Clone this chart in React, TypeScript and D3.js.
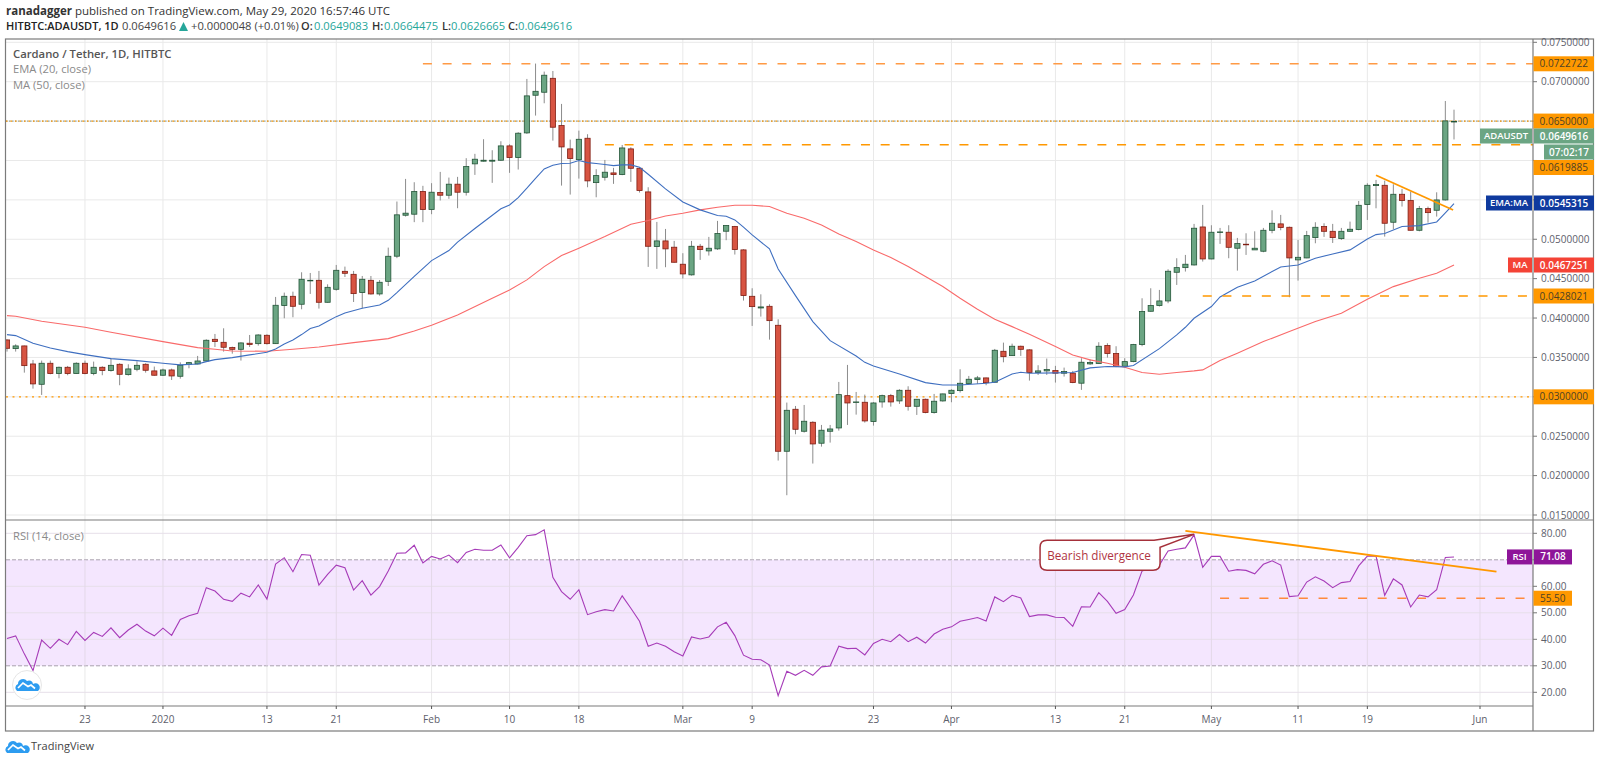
import { useEffect, useRef } from 'react'
import * as d3 from 'd3'

// all candle / average values are in units of 0.00001 USDT
const opens = [
  3722, 3612, 3646, 3417, 3159, 3426, 3295, 3375, 3295, 3426,
  3295, 3375, 3333, 3413, 3282, 3350, 3413, 3329, 3274, 3341,
  3261, 3413, 3417, 3455, 3730, 3692, 3625, 3603, 3680, 3675,
  3781, 3675, 4158, 4276, 4175, 4475, 4479, 4200, 4365, 4593,
  4555, 4323, 4479, 4306, 4466, 4785, 5305, 5318, 5606, 5377,
  5593, 5559, 5699, 5597, 5957, 5991, 5991, 6003, 6185, 6037,
  6350, 6828, 6866, 7043, 6443, 6147, 6011, 6282, 5719, 5787,
  5842, 5821, 6147, 5901, 5601, 4907, 4979, 4899, 4683, 4548,
  4911, 4852, 4878, 5102, 5161, 4865, 4276, 4128, 4149, 3908,
  2309, 2842, 2563, 2677, 2411, 2563, 2605, 3015, 2927, 2931,
  2686, 2935, 3015, 2948, 3083, 2880, 2969, 2800, 2948, 3041,
  3079, 3168, 3219, 3240, 3185, 3578, 3523, 3642, 3596, 3308,
  3329, 3333, 3300, 3300, 3173, 3418, 3422, 3651, 3549, 3388,
  3447, 3663, 4086, 4158, 4217, 4581, 4640, 4674, 5156, 4750,
  5085, 5089, 4886, 4937, 4865, 4848, 5114, 5195, 5152, 4738,
  4763, 5021, 5161, 5101, 5008, 5101, 5123, 5440, 5681, 5685,
  5216, 5571, 5491, 5114, 5389, 5368, 5499, 6491,
]
const closes = [
  3616, 3646, 3396, 3164, 3426, 3295, 3375, 3295, 3426, 3295,
  3375, 3333, 3400, 3286, 3354, 3400, 3337, 3274, 3341, 3265,
  3400, 3434, 3455, 3718, 3701, 3629, 3603, 3684, 3663, 3785,
  3675, 4162, 4276, 4149, 4492, 4479, 4200, 4390, 4606, 4568,
  4310, 4492, 4306, 4454, 4784, 5310, 5331, 5606, 5377, 5597,
  5559, 5699, 5597, 5923, 6016, 6003, 6003, 6185, 6037, 6346,
  6820, 6878, 7082, 6422, 6172, 6024, 6269, 5741, 5808, 5851,
  5821, 6159, 5901, 5618, 4911, 4979, 4878, 4708, 4560, 4911,
  4869, 4886, 5072, 5174, 4869, 4285, 4145, 4141, 3967, 2309,
  2829, 2588, 2690, 2402, 2576, 2592, 3028, 2922, 2935, 2694,
  2922, 3015, 2935, 3083, 2880, 2969, 2800, 2944, 3037, 3083,
  3172, 3223, 3240, 3180, 3591, 3510, 3642, 3603, 3308, 3329,
  3346, 3300, 3321, 3181, 3439, 3435, 3642, 3549, 3388, 3447,
  3663, 4082, 4158, 4217, 4594, 4640, 4683, 5140, 4750, 5089,
  5093, 4898, 4945, 4932, 4886, 5114, 5203, 5148, 4763, 4771,
  5046, 5152, 5101, 5021, 5101, 5127, 5431, 5685, 5694, 5203,
  5571, 5491, 5114, 5389, 5338, 5499, 6502, 6496,
]
const highs = [
  3730, 3667, 3650, 3468, 3460, 3460, 3384, 3392, 3438, 3460,
  3447, 3388, 3489, 3426, 3413, 3451, 3426, 3384, 3358, 3358,
  3438, 3443, 3519, 3730, 3798, 3870, 3637, 3692, 3785, 3794,
  3794, 4268, 4323, 4335, 4581, 4572, 4598, 4428, 4674, 4653,
  4598, 4534, 4534, 4483, 4894, 5479, 5766, 5724, 5678, 5712,
  5855, 5783, 5792, 6029, 6084, 6270, 6130, 6244, 6206, 6359,
  7035, 7230, 7128, 7136, 6718, 6265, 6379, 6333, 5889, 6007,
  5906, 6197, 6168, 5914, 5660, 5220, 5131, 4979, 4823, 4979,
  4941, 5030, 5233, 5178, 5170, 4873, 4378, 4301, 4175, 3984,
  2927, 2884, 2897, 2690, 2643, 2643, 3189, 3405, 3062, 3028,
  2931, 3028, 3037, 3096, 3134, 2973, 2977, 3037, 3041, 3096,
  3350, 3265, 3265, 3244, 3608, 3688, 3675, 3650, 3604, 3401,
  3486, 3393, 3371, 3329, 3490, 3477, 3693, 3680, 3642, 3490,
  3672, 4251, 4378, 4357, 4619, 4759, 4801, 5195, 5436, 5178,
  5144, 5178, 5017, 5076, 5101, 5144, 5368, 5309, 5161, 4991,
  5106, 5216, 5203, 5195, 5144, 5224, 5486, 5711, 5753, 5744,
  5698, 5639, 5605, 5423, 5415, 5596, 6755, 6645,
]
const lows = [
  3574, 3574, 3307, 3104, 3024, 3286, 3235, 3274, 3295, 3286,
  3274, 3274, 3320, 3147, 3269, 3324, 3307, 3269, 3265, 3214,
  3231, 3362, 3413, 3447, 3633, 3574, 3548, 3460, 3633, 3650,
  3663, 3671, 3997, 4010, 4111, 4306, 4120, 4196, 4348, 4521,
  4204, 4124, 4297, 4284, 4407, 4760, 5288, 5217, 5217, 5318,
  5492, 5513, 5394, 5555, 5817, 5986, 5716, 5995, 5843, 5885,
  6338, 6570, 6726, 6252, 5681, 5567, 5770, 5660, 5533, 5745,
  5703, 5813, 5728, 5593, 4649, 4624, 4645, 4704, 4501, 4539,
  4738, 4793, 4865, 4988, 4806, 4222, 3900, 4018, 3726, 2191,
  1751, 2525, 2546, 2153, 2368, 2419, 2571, 2643, 2774, 2673,
  2635, 2863, 2876, 2910, 2825, 2770, 2791, 2787, 2939, 2931,
  3054, 3155, 3164, 3147, 3180, 3438, 3519, 3519, 3206, 3278,
  3278, 3181, 3257, 3173, 3088, 3405, 3418, 3498, 3376, 3376,
  3439, 3642, 4082, 4146, 4188, 4420, 4590, 4666, 4717, 4746,
  4941, 4759, 4602, 4801, 4865, 4835, 5076, 5114, 4264, 4475,
  4759, 4949, 5030, 4953, 4991, 5093, 5114, 5245, 5393, 5034,
  5127, 5415, 5110, 5101, 5211, 5288, 5491, 6267,
]

// averages: [day index from 14 Dec 2019, value]
const ema20: [number, number][] = [
  [0, 3790], [1, 3777], [3, 3680], [5, 3620], [7, 3574], [9, 3536], [12, 3485], [15, 3460],
  [18, 3426], [20, 3405], [22, 3417], [23, 3447], [24, 3472], [26, 3498], [28, 3532], [30, 3565],
  [31, 3608], [32, 3671], [33, 3722], [34, 3790], [35, 3866], [36, 3900], [37, 3959], [38, 4018],
  [39, 4065], [41, 4124], [43, 4166], [44, 4225], [45, 4323], [47, 4530], [49, 4729], [51, 4857],
  [52, 4963], [54, 5136], [57, 5386], [58, 5436], [59, 5529], [60, 5648], [61, 5774], [62, 5893],
  [63, 5939], [64, 5961], [65, 5965], [66, 5999], [67, 5973], [68, 5961], [69, 5948], [70, 5935],
  [71, 5944], [72, 5944], [73, 5914], [74, 5825], [76, 5639], [78, 5474], [80, 5373], [82, 5301],
  [83, 5292], [84, 5246], [85, 5153], [86, 5055], [88, 4878], [89, 4623], [91, 4284], [93, 3955],
  [95, 3713], [98, 3519], [99, 3438], [100, 3392], [103, 3290], [106, 3180], [108, 3151], [110, 3151],
  [113, 3172], [114, 3185], [116, 3290], [117, 3312], [118, 3300], [121, 3304], [123, 3308], [125, 3367],
  [127, 3384], [129, 3380], [130, 3397], [133, 3612], [135, 3786], [136, 3883], [137, 3997], [139, 4146],
  [140, 4268], [142, 4391], [144, 4471], [147, 4649], [149, 4674], [151, 4759], [153, 4814], [155, 4865],
  [157, 5004], [158, 5059], [159, 5072], [161, 5161], [163, 5173], [165, 5220], [166, 5334], [167, 5453],
]
const ma50: [number, number][] = [
  [0, 4031], [1, 4022], [4, 3959], [9, 3883], [12, 3819], [18, 3701], [22, 3625], [24, 3603],
  [26, 3582], [30, 3578], [33, 3603], [36, 3633], [40, 3688], [44, 3739], [47, 3836], [49, 3908],
  [52, 4039], [56, 4250], [58, 4357], [60, 4484], [62, 4653], [64, 4793], [66, 4886], [69, 5034],
  [72, 5191], [74, 5237], [76, 5296], [78, 5330], [80, 5373], [82, 5406], [84, 5432], [86, 5432],
  [88, 5415], [90, 5330], [92, 5267], [94, 5182], [96, 5068], [98, 4971], [100, 4865], [102, 4768],
  [104, 4653], [106, 4527], [108, 4400], [110, 4252], [112, 4112], [114, 3984], [116, 3891], [118, 3794],
  [121, 3638], [123, 3532], [125, 3469], [127, 3426], [129, 3376], [131, 3308], [133, 3287], [135, 3308],
  [137, 3329], [138, 3342], [140, 3460], [142, 3553], [145, 3701], [148, 3828], [151, 3955], [154, 4061],
  [157, 4239], [160, 4399], [163, 4505], [165, 4568], [167, 4673],
]
const rsi = [
  40.3, 41.3, 34.5, 28.2, 39.7, 36.6, 40, 38, 43, 39.6,
  42.6, 41.1, 44.3, 40.6, 43.5, 45.7, 43.1, 41.3, 44.2, 41.5,
  47.5, 48.9, 49.8, 59.5, 58.2, 55.1, 54.3, 57.4, 56, 60.5,
  55.2, 68.4, 70.8, 65.5, 72, 71.7, 60.5, 64.5, 68, 67,
  58.6, 62.1, 56.7, 59.9, 65.8, 72.5, 72.6, 75.5, 68.8, 71.3,
  70.3, 71.8, 68.9, 72.8, 74, 73.6, 73.6, 75.6, 70.7, 74.7,
  79.1, 79.5, 81.3, 63.4, 58, 55.1, 58.7, 49.3, 50.4, 51.2,
  50.7, 56.4, 51.7, 46.8, 37.4, 38.6, 37.4, 35.3, 33.7, 40.9,
  40.1, 40.9, 44.7, 46.4, 41.4, 34, 32.5, 32.3, 30.3, 18.7,
  27.9, 26.4, 28.3, 26.4, 29.6, 29.9, 37.4, 36.5, 36.6, 34.1,
  38.4, 40, 39.1, 41.8, 39.1, 40.8, 38.6, 42, 43.8, 44.7,
  46.8, 47.5, 48.2, 46.9, 56, 54.2, 56.6, 55.6, 48.6, 49.2,
  49.2, 48.3, 48.2, 44.9, 52.3, 52.2, 57.6, 54.3, 49.8, 51.2,
  56.7, 65.8, 66.8, 68, 73.3, 74, 74.5, 79.4, 67.2, 71.3,
  71.3, 65.7, 66.3, 66, 64.7, 68.3, 69.6, 68, 56.1, 56.4,
  61.6, 63.6, 62, 59.5, 61.4, 61.8, 67.7, 71.4, 71.4, 56.6,
  62.8, 60.5, 52.2, 56.7, 56, 58.7, 70.9, 71.08,
]

const timeTicks: [string, string][] = [
  ['2019-12-23', '23'], ['2020-01-01', '2020'], ['2020-01-13', '13'], ['2020-01-21', '21'],
  ['2020-02-01', 'Feb'], ['2020-02-10', '10'], ['2020-02-18', '18'], ['2020-03-01', 'Mar'],
  ['2020-03-09', '9'], ['2020-03-23', '23'], ['2020-04-01', 'Apr'], ['2020-04-13', '13'],
  ['2020-04-21', '21'], ['2020-05-01', 'May'], ['2020-05-11', '11'], ['2020-05-19', '19'],
  ['2020-06-01', 'Jun'],
]
const priceTicks = d3.range(15, 76, 5).map((d) => d / 1000)
const rsiTicks = [20, 30, 40, 50, 60, 70, 80]
// these tick labels sit under a coloured tag in the reference
const coveredPriceTicks = [0.03, 0.055, 0.06, 0.065]
const coveredRsiTicks = [70]

const FONT = '"Open Sans", sans-serif'
const ORANGE = '#ff9800'
const GRID = '#e9e9e9'
const AXIS_TEXT = '#5d606b'

const left = 6
const axisX = 1533
const rightEdge = 1594
const priceTop = 39
const paneSplit = 520
const paneBottom = 706
const frameBottom = 731

function drawCloud(g: d3.Selection<SVGGElement, unknown, null, undefined>, fill: string) {
  g.append('path')
    .attr('fill', fill)
    .attr('d', 'M1,13 A4,4 0 0 1 2,6 A5,5 0 0 1 11,3 A4,4 0 0 1 17,6 A4,4 0 0 1 22,13 Z')
  g.append('path')
    .attr('fill', 'none')
    .attr('stroke', 'white')
    .attr('stroke-width', 1.7)
    .attr('d', 'M2,10 L7,5 L12,8.5 L15,7 L19,10.5')
}

export default function App() {
  const svgRef = useRef<SVGSVGElement>(null)

  useEffect(() => {
    if (!svgRef.current) return
    const svg = d3.select(svgRef.current)
    svg.selectAll('*').remove()

    const startDay = new Date(Date.UTC(2019, 11, 14))
    const xTime = d3
      .scaleUtc()
      .domain([startDay, new Date(Date.UTC(2020, 5, 1))])
      .range([7, 1480])
    const x = (i: number) => xTime(startDay.getTime() + i * 864e5)
    const yPrice = d3.scaleLinear().domain([0.015, 0.075]).range([515, 42.3])
    const yP = (v: number) => yPrice(v / 1e5)
    const yRsi = d3.scaleLinear().domain([20, 80]).range([692.3, 533.3])

    const text = (
      parent: d3.Selection<any, unknown, null, undefined>,
      tx: number,
      ty: number,
      str: string,
      size: number,
      fill: string,
      anchor = 'start',
      weight = 400
    ) =>
      parent
        .append('text')
        .attr('x', tx)
        .attr('y', ty)
        .attr('dy', '0.35em')
        .attr('font-family', FONT)
        .attr('font-size', size)
        .attr('font-weight', weight)
        .attr('text-anchor', anchor)
        .attr('fill', fill)
        .text(str)

    svg.append('rect').attr('width', 1600).attr('height', 763).attr('fill', 'white')

    const defs = svg.append('defs')
    defs
      .append('clipPath')
      .attr('id', 'panes')
      .append('rect')
      .attr('x', left)
      .attr('y', priceTop)
      .attr('width', axisX - left)
      .attr('height', paneBottom - priceTop)

    const plot = svg.append('g').attr('clip-path', 'url(#panes)')

    // Grid
    timeTicks.forEach(([d]) => {
      plot
        .append('line')
        .attr('x1', xTime(new Date(d)))
        .attr('x2', xTime(new Date(d)))
        .attr('y1', priceTop)
        .attr('y2', paneBottom)
        .attr('stroke', GRID)
    })
    priceTicks.forEach((t) => {
      plot
        .append('line')
        .attr('x1', left)
        .attr('x2', axisX)
        .attr('y1', yPrice(t))
        .attr('y2', yPrice(t))
        .attr('stroke', GRID)
    })

    // RSI band
    plot
      .append('rect')
      .attr('x', left)
      .attr('width', axisX - left)
      .attr('y', yRsi(70))
      .attr('height', yRsi(30) - yRsi(70))
      .attr('fill', '#f4e6fe')
    rsiTicks.forEach((t) => {
      plot
        .append('line')
        .attr('x1', left)
        .attr('x2', axisX)
        .attr('y1', yRsi(t))
        .attr('y2', yRsi(t))
        .attr('stroke', t === 30 || t === 70 ? '#a9a2ad' : '#e6dfe9')
        .attr('stroke-dasharray', t === 30 || t === 70 ? '4,2' : null)
    })
    timeTicks.forEach(([d]) => {
      plot
        .append('line')
        .attr('x1', xTime(new Date(d)))
        .attr('x2', xTime(new Date(d)))
        .attr('y1', yRsi(70))
        .attr('y2', yRsi(30))
        .attr('stroke', '#e3d8e8')
    })

    // Horizontal levels behind the candles
    const dotted = (value: number, dash: string, color: string) =>
      plot
        .append('line')
        .attr('x1', left)
        .attr('x2', axisX)
        .attr('y1', yPrice(value))
        .attr('y2', yPrice(value))
        .attr('stroke', color)
        .attr('stroke-width', 1.2)
        .attr('stroke-dasharray', dash)
    dotted(0.065, '1.5,1.5', '#9aa89c')
    dotted(0.065, '1.5,3', ORANGE)
    dotted(0.03, '2,4.5', ORANGE)

    // Candles
    const candles = d3.range(opens.length)
    plot
      .append('g')
      .selectAll('line')
      .data(candles)
      .enter()
      .append('line')
      .attr('x1', (i) => x(i))
      .attr('x2', (i) => x(i))
      .attr('y1', (i) => yP(highs[i]))
      .attr('y2', (i) => yP(lows[i]))
      .attr('stroke', '#8c8c8c')
    plot
      .append('g')
      .selectAll('rect')
      .data(candles)
      .enter()
      .append('rect')
      .attr('x', (i) => x(i) - 2.6)
      .attr('width', 5.2)
      .attr('y', (i) => yP(Math.max(opens[i], closes[i])))
      .attr('height', (i) => Math.max(0.6, Math.abs(yP(opens[i]) - yP(closes[i]))))
      .attr('fill', (i) => (closes[i] >= opens[i] ? '#6ba583' : '#d75442'))
      .attr('stroke', (i) => (closes[i] >= opens[i] ? '#225437' : '#7f1d12'))
      .attr('stroke-width', 0.8)

    // Averages
    const avgLine = d3
      .line<[number, number]>()
      .x((d) => x(d[0]))
      .y((d) => yP(d[1]))
    plot
      .append('path')
      .attr('d', avgLine(ma50))
      .attr('fill', 'none')
      .attr('stroke', '#f96a6a')
      .attr('stroke-width', 1.1)
    plot
      .append('path')
      .attr('d', avgLine(ema20))
      .attr('fill', 'none')
      .attr('stroke', '#3f6fc0')
      .attr('stroke-width', 1.1)

    // Drawn levels
    const dashed = (
      x1: number,
      x2: number,
      y: number,
      color: string,
      width = 1.5
    ) =>
      plot
        .append('line')
        .attr('x1', x1)
        .attr('x2', x2)
        .attr('y1', y)
        .attr('y2', y)
        .attr('stroke', color)
        .attr('stroke-width', width)
        .attr('stroke-dasharray', '9,10.7')
    dashed(x(48), axisX, yPrice(0.0722722), '#ff9a45')
    dashed(x(69), axisX, yPrice(0.0619885), ORANGE)
    dashed(x(138), axisX, yPrice(0.0428021), ORANGE)
    dashed(x(140), axisX, yRsi(55.5), '#ff8a3c')

    // Trend lines
    plot
      .append('line')
      .attr('x1', x(158))
      .attr('y1', yP(5812))
      .attr('x2', x(166.9))
      .attr('y2', yP(5372))
      .attr('stroke', ORANGE)
      .attr('stroke-width', 1.8)

    // RSI
    plot
      .append('path')
      .attr(
        'd',
        d3
          .line<number>()
          .x((_, i) => x(i))
          .y((d) => yRsi(d))(rsi)
      )
      .attr('fill', 'none')
      .attr('stroke', '#a63bb8')
      .attr('stroke-width', 1.1)
    plot
      .append('line')
      .attr('x1', x(136))
      .attr('y1', yRsi(80.9))
      .attr('x2', x(171.9))
      .attr('y2', yRsi(65.5))
      .attr('stroke', ORANGE)
      .attr('stroke-width', 1.8)

    // Callout
    const ax = x(137)
    const ay = yRsi(79.6)
    const boxX = ax - 154
    const boxY = ay + 6
    const boxW = 120
    const boxH = 30
    const r = 7
    plot
      .append('path')
      .attr(
        'd',
        `M${boxX + r},${boxY} L${boxX + boxW - 6},${boxY} L${ax},${ay} L${boxX + boxW},${boxY + 7} ` +
          `L${boxX + boxW},${boxY + boxH - r} Q${boxX + boxW},${boxY + boxH} ${boxX + boxW - r},${boxY + boxH} ` +
          `L${boxX + r},${boxY + boxH} Q${boxX},${boxY + boxH} ${boxX},${boxY + boxH - r} ` +
          `L${boxX},${boxY + r} Q${boxX},${boxY} ${boxX + r},${boxY} Z`
      )
      .attr('fill', 'white')
      .attr('stroke', '#a5303a')
      .attr('stroke-width', 1.5)
    text(plot, boxX + boxW / 2 - 1, boxY + boxH / 2 + 0.5, 'Bearish divergence', 11.7, '#b0343f', 'middle')

    // Round logo in the RSI pane
    plot
      .append('circle')
      .attr('cx', 27)
      .attr('cy', 685)
      .attr('r', 14.5)
      .attr('fill', 'white')
      .attr('stroke', '#e6e6e6')
    drawCloud(plot.append('g').attr('transform', 'translate(16,678)'), '#2d9cf0')

    // Frame
    const frame = svg.append('g').attr('stroke', '#7b7b7b').attr('fill', 'none')
    frame
      .append('rect')
      .attr('x', left - 0.5)
      .attr('y', priceTop)
      .attr('width', rightEdge - left)
      .attr('height', frameBottom - priceTop)
      .attr('stroke-width', 1.2)
    frame.append('line').attr('x1', left).attr('x2', rightEdge).attr('y1', paneSplit).attr('y2', paneSplit).attr('stroke-width', 1.2)
    frame.append('line').attr('x1', left).attr('x2', axisX).attr('y1', paneBottom).attr('y2', paneBottom).attr('stroke-width', 1.2)
    frame.append('line').attr('x1', axisX).attr('x2', axisX).attr('y1', priceTop).attr('y2', frameBottom).attr('stroke-width', 1.2)

    // Time axis
    timeTicks.forEach(([d, label]) => {
      const tx = xTime(new Date(d))
      svg.append('line').attr('x1', tx).attr('x2', tx).attr('y1', paneBottom).attr('y2', paneBottom + 3).attr('stroke', '#555')
      text(svg, tx, 719, label, 10, AXIS_TEXT, 'middle')
    })

    // Price axis
    priceTicks.forEach((t) => {
      svg.append('line').attr('x1', axisX).attr('x2', axisX + 4).attr('y1', yPrice(t)).attr('y2', yPrice(t)).attr('stroke', '#777')
      if (!coveredPriceTicks.includes(t)) text(svg, axisX + 8, yPrice(t), t.toFixed(7), 10, AXIS_TEXT)
    })
    rsiTicks.forEach((t) => {
      svg.append('line').attr('x1', axisX).attr('x2', axisX + 4).attr('y1', yRsi(t)).attr('y2', yRsi(t)).attr('stroke', '#777')
      if (!coveredRsiTicks.includes(t)) text(svg, axisX + 8, yRsi(t), t.toFixed(2), 10, AXIS_TEXT)
    })

    // Price labels on the axis
    const tag = (
      x0: number,
      x1: number,
      cy: number,
      fill: string,
      str: string,
      color: string,
      weight = 600,
      size = 10
    ) => {
      svg.append('rect').attr('x', x0).attr('y', cy - 7.5).attr('width', x1 - x0).attr('height', 15).attr('fill', fill)
      text(svg, (x0 + x1) / 2, cy, str, size, color, 'middle', weight)
    }
    tag(axisX + 0.5, rightEdge, yPrice(0.0722722), ORANGE, '0.0722722', '#4d4226', 400)
    tag(axisX + 0.5, rightEdge, yPrice(0.065), ORANGE, '0.0650000', '#4d4226', 400)
    tag(1480, axisX - 1, 136, '#6ba583', 'ADAUSDT', 'white', 600, 9.5)
    tag(axisX + 1, rightEdge, 136, '#6ba583', '0.0649616', 'white')
    tag(1544, rightEdge, 152, '#6ba583', '07:02:17', 'white')
    tag(axisX + 0.5, rightEdge, 167.5, ORANGE, '0.0619885', '#4d4226', 400)
    tag(1486, axisX - 1, 203, '#0f3a9e', 'EMA:MA', 'white', 600, 9.5)
    tag(axisX + 1, rightEdge, 203, '#0f3a9e', '0.0545315', 'white')
    tag(1508, axisX - 1, 265, '#f44336', 'MA', 'white', 600, 9.5)
    tag(axisX + 1, rightEdge, 265, '#f44336', '0.0467251', 'white')
    tag(axisX + 0.5, rightEdge, 296, ORANGE, '0.0428021', '#4d4226', 400)
    tag(axisX + 0.5, rightEdge, yPrice(0.03), ORANGE, '0.0300000', '#4d4226', 400)
    tag(1507, axisX - 1, yRsi(71.08), '#8e1599', 'RSI', 'white', 600, 9.5)
    tag(axisX + 1, 1572, yRsi(71.08), '#8e1599', '71.08', 'white')
    tag(axisX + 0.5, 1572, yRsi(55.5), ORANGE, '55.50', '#4d4226', 400)

    // Pane legends
    text(svg, 13, 54, 'Cardano / Tether, 1D, HITBTC', 11.3, '#555', 'start', 600)
    text(svg, 13, 69.5, 'EMA (20, close)', 11.2, '#8a8a8a')
    text(svg, 13, 85, 'MA (50, close)', 11.2, '#8a8a8a')
    text(svg, 13, 536, 'RSI (14, close)', 11.2, '#8a8a8a')

    // Header
    const line1 = text(svg, 6, 11, '', 11.5, '#333')
    line1.append('tspan').attr('font-weight', 700).text('ranadagger')
    line1.append('tspan').text(' published on TradingView.com, May 29, 2020 16:57:46 UTC')
    text(svg, 6, 26.5, 'HITBTC:ADAUSDT, 1D', 11, '#222', 'start', 600)
    text(svg, 122, 26.5, '0.0649616', 11.2, '#444')
    svg.append('path').attr('d', 'M179,31 L183.5,22 L188,31 Z').attr('fill', '#26a69a')
    text(svg, 191, 26.5, '+0.0000048 (+0.01%)', 11.2, '#444')
    const ohlc: [number, number, string, string][] = [
      [301, 314, 'O:', '0.0649083'],
      [372, 384, 'H:', '0.0664475'],
      [442, 451, 'L:', '0.0626665'],
      [508, 518, 'C:', '0.0649616'],
    ]
    ohlc.forEach(([lx, vx, k, v]) => {
      text(svg, lx, 26.5, k, 11, '#333', 'start', 600)
      text(svg, vx, 26.5, v, 11.2, '#26a69a')
    })

    // Footer logo
    drawCloud(svg.append('g').attr('transform', 'translate(6,740)'), '#2d9cf0')
    text(svg, 31, 746.5, 'TradingView', 11, '#444')
  }, [])

  return (
    <svg
      ref={svgRef}
      width={1600}
      height={763}
      style={{ position: 'absolute', left: 0, top: 0, display: 'block' }}
    />
  )
}
